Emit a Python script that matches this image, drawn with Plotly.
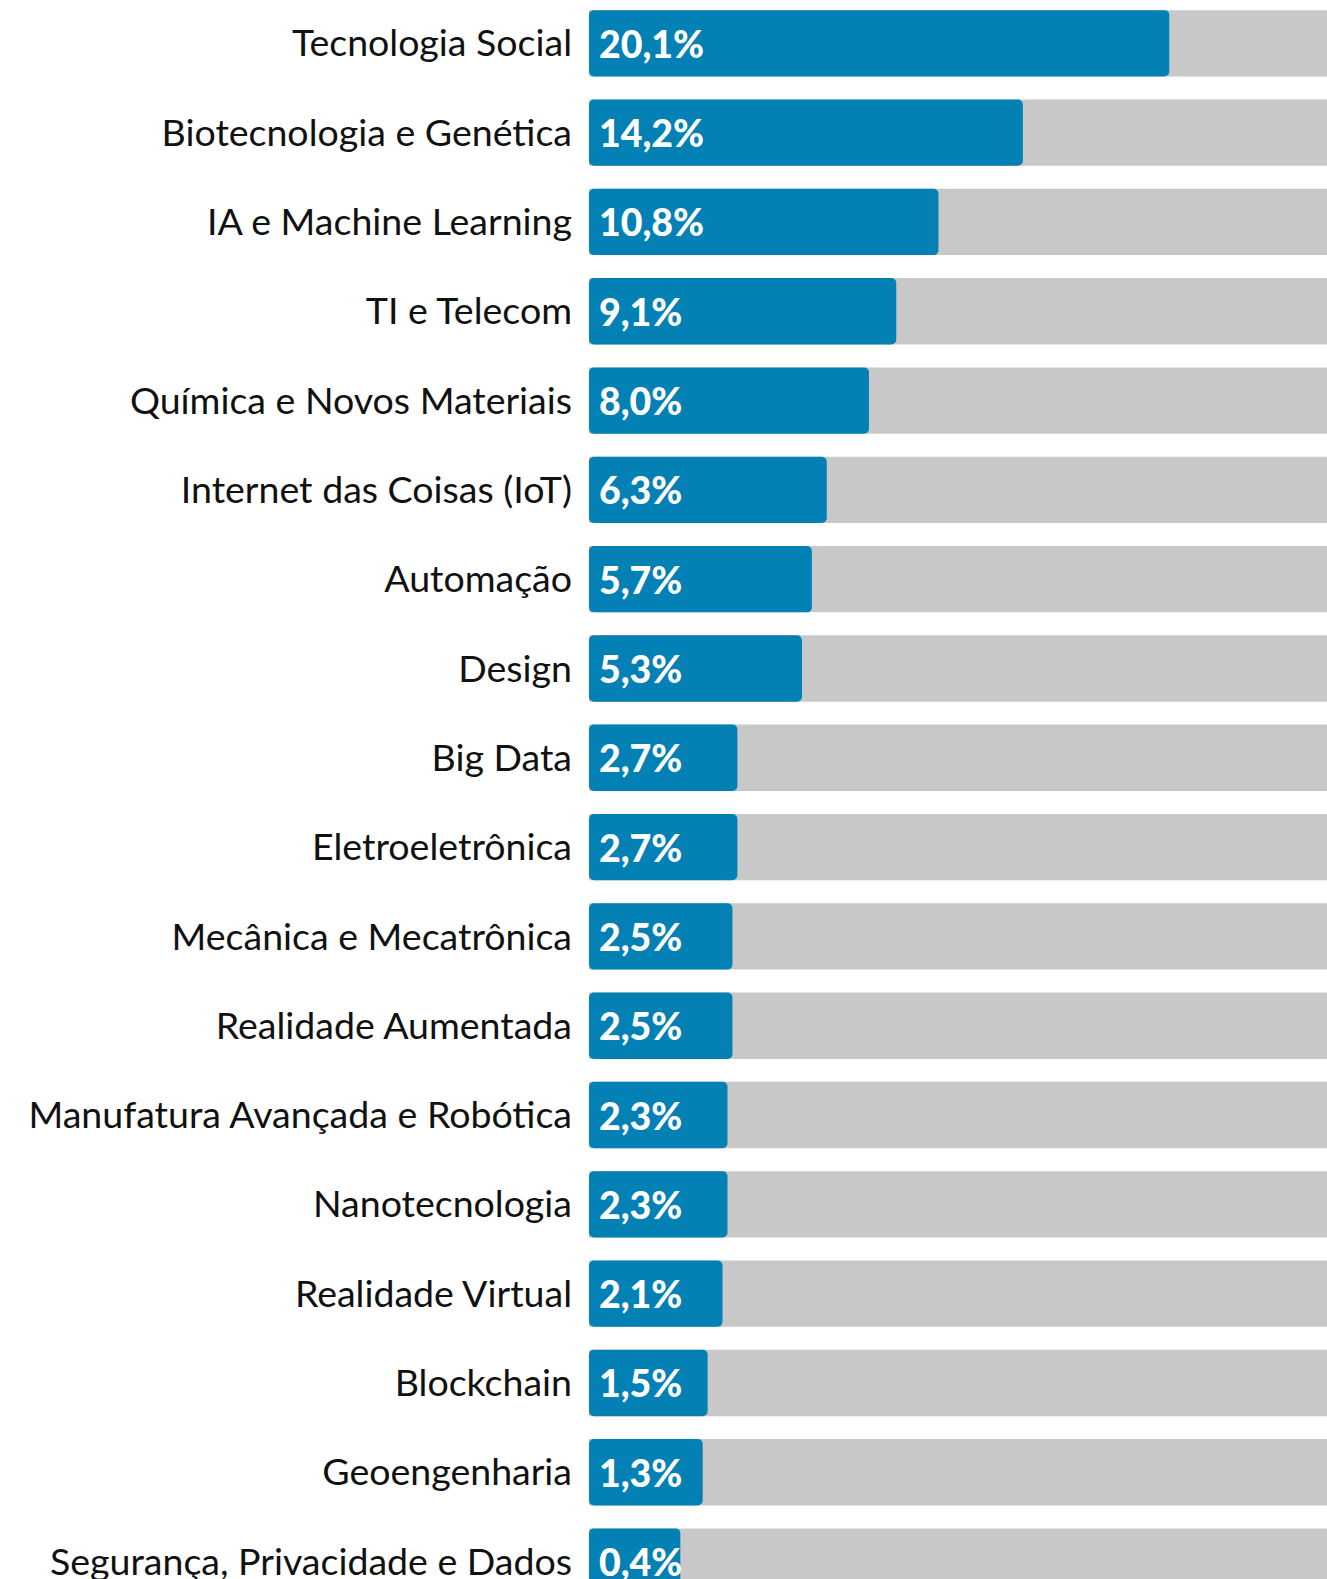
import plotly.graph_objects as go

categories = [
    "Tecnologia Social", "Biotecnologia e Genética", "IA e Machine Learning",
    "TI e Telecom", "Química e Novos Materiais", "Internet das Coisas (IoT)",
    "Automação", "Design", "Big Data", "Eletroeletrônica",
    "Mecânica e Mecatrônica", "Realidade Aumentada",
    "Manufatura Avançada e Robótica", "Nanotecnologia", "Realidade Virtual",
    "Blockchain", "Geoengenharia", "Segurança, Privacidade e Dados",
]
values = [20.1, 14.2, 10.8, 9.1, 8.0, 6.3, 5.7, 5.3, 2.7, 2.7,
          2.5, 2.5, 2.3, 2.3, 2.1, 1.5, 1.3, 0.4]
value_labels = [f"{v:.1f}".replace(".", ",") + "%" for v in values]

BASE = -3.28          # visual offset so small bars keep room for their label
TRACK = 40            # background track extends past the right edge
BLUE = "#0380B4"
GRAY = "#C8C8C8"
FONT = "Lato"

fig = go.Figure()
fig.add_trace(go.Bar(
    y=categories, x=[TRACK - BASE] * len(categories), base=BASE,
    orientation="h", marker=dict(color=GRAY, line=dict(width=0)),
    width=0.743, hoverinfo="skip", showlegend=False,
))
fig.add_trace(go.Bar(
    y=categories, x=[v - BASE for v in values], base=BASE,
    orientation="h", marker=dict(color=BLUE, line=dict(width=0), cornerradius=5),
    width=0.743, showlegend=False,
))
for cat, lab in zip(categories, value_labels):
    fig.add_annotation(
        x=BASE, y=cat, xref="x", yref="y", text=lab,
        showarrow=False, xanchor="left", yanchor="middle", xshift=8,
        font=dict(family=FONT, size=37.5, color="white", weight=900),
    )

fig.update_layout(
    width=1327, height=1579,
    margin=dict(l=589, r=0, t=0, b=0, autoexpand=False),
    barmode="overlay",
    plot_bgcolor="white", paper_bgcolor="white",
    xaxis=dict(range=[BASE, BASE + 738 / 24.82], visible=False, fixedrange=True),
    yaxis=dict(
        type="category", categoryorder="array", categoryarray=categories,
        range=[17.195, -0.485], autorange=False,
        showgrid=False, zeroline=False, showline=False, ticks="",
        ticklabelstandoff=16,
        tickfont=dict(family=FONT, size=37.5, color="#111111"),
    ),
)
fig.write_html(
    "out.html",
    config={"displayModeBar": False},
    post_script="document.body.style.margin='0';document.body.style.overflow='hidden';",
)
